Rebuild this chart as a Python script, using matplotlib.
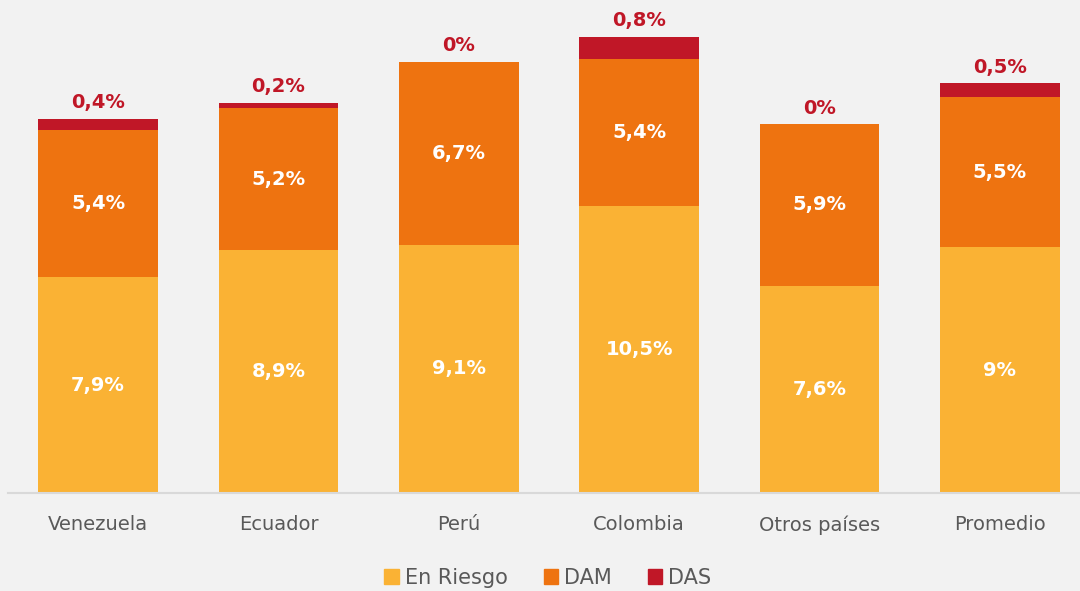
import matplotlib
matplotlib.use("Agg")
import matplotlib.pyplot as plt
import numpy as np
from matplotlib.patches import Patch

categories = ["Venezuela", "Ecuador", "Perú", "Colombia", "Otros países", "Promedio"]
en_riesgo = [7.9, 8.9, 9.1, 10.5, 7.6, 9.0]
dam = [5.4, 5.2, 6.7, 5.4, 5.9, 5.5]
das = [0.4, 0.2, 0.0, 0.8, 0.0, 0.5]
riesgo_labels = ["7,9%", "8,9%", "9,1%", "10,5%", "7,6%", "9%"]
dam_labels = ["5,4%", "5,2%", "6,7%", "5,4%", "5,9%", "5,5%"]
das_labels = ["0,4%", "0,2%", "0%", "0,8%", "0%", "0,5%"]

c_yellow = "#FAB234"
c_orange = "#EE7310"
c_red = "#C01727"
bg = "#F2F2F2"

plt.rcParams['font.family'] = ['DejaVu Sans']

fig = plt.figure(figsize=(10.8, 5.91), dpi=100, facecolor=bg)
ax = fig.add_axes([8/1080, 1 - 493/591, 1082/1080, 493/591])
ax.set_facecolor(bg)

x = np.arange(len(categories))
w = 0.665
en = np.array(en_riesgo); dm = np.array(dam); ds = np.array(das)
ax.bar(x, en, w, color=c_yellow, label="En Riesgo")
ax.bar(x, dm, w, bottom=en, color=c_orange, label="DAM")
ax.bar(x, ds, w, bottom=en + dm, color=c_red, label="DAS")

for i in range(len(x)):
    ax.text(x[i], en[i] / 2, riesgo_labels[i], ha="center", va="center",
            color="white", fontsize=14, fontweight="bold")
    ax.text(x[i], en[i] + dm[i] / 2, dam_labels[i], ha="center", va="center",
            color="white", fontsize=14, fontweight="bold")
    ax.annotate(das_labels[i], (x[i], en[i] + dm[i] + ds[i]), xytext=(0, 5),
                textcoords="offset points", ha="center", va="bottom",
                color=c_red, fontsize=14, fontweight="bold")

ax.set_xlim(-0.5, len(x) - 0.5)
ax.set_ylim(0, 493 / 27.3)
for s in ["top", "right", "left"]:
    ax.spines[s].set_visible(False)
ax.spines["bottom"].set_color("#D9D9D9")
ax.spines["bottom"].set_linewidth(1.5)
ax.set_yticks([])
ax.set_xticks(x)
ax.set_xticklabels(categories, fontsize=14, color="#595959")
ax.tick_params(axis="x", length=0, pad=16)

handles = [Patch(color=c_yellow, label="En Riesgo"),
           Patch(color=c_orange, label="DAM"),
           Patch(color=c_red, label="DAS")]
leg = fig.legend(handles=handles, loc="center", bbox_to_anchor=(548/1080, 1 - 578/591),
                 ncol=3, frameon=False, fontsize=15, handlelength=0.7, handleheight=0.7,
                 handletextpad=0.3, columnspacing=1.7)
for t in leg.get_texts():
    t.set_color("#595959")

fig.savefig("out.png", dpi=100, facecolor=bg)
